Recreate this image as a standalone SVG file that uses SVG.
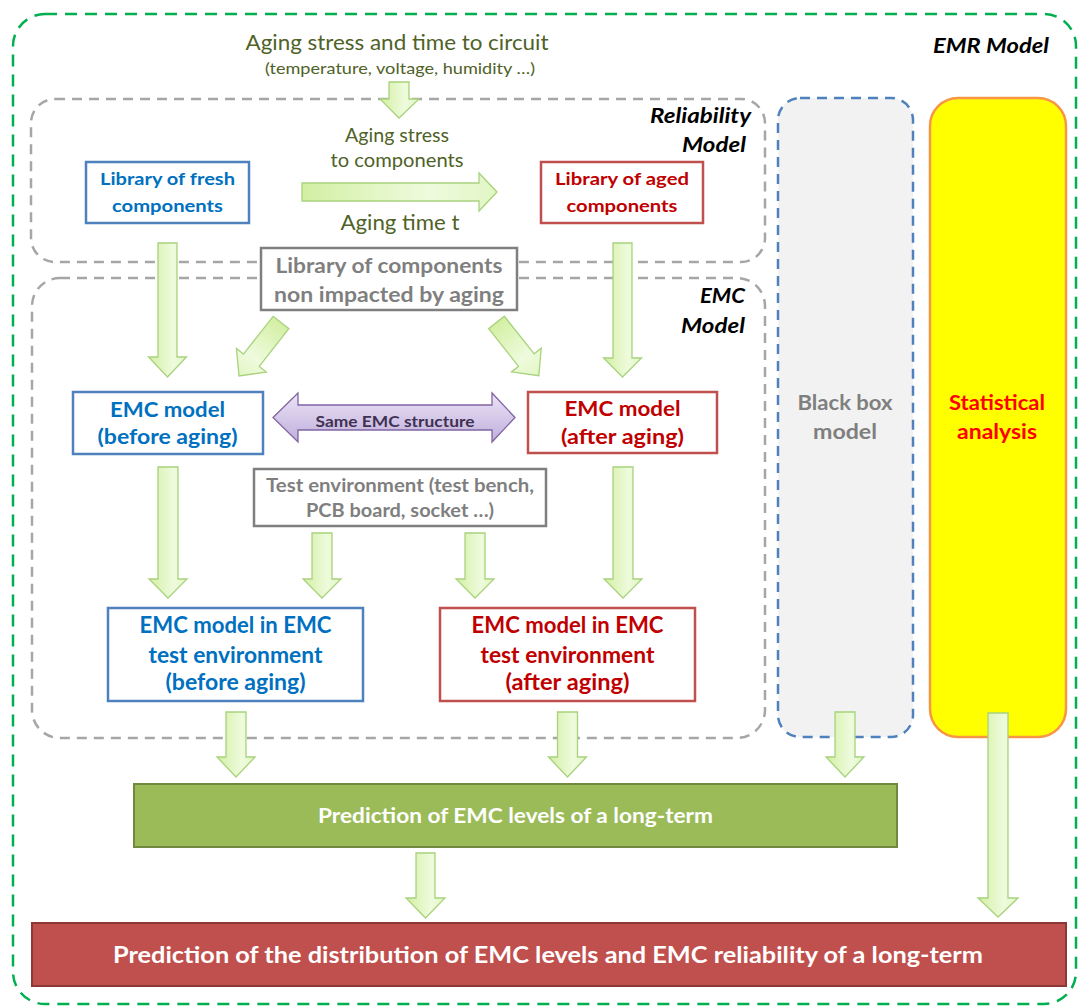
<svg xmlns="http://www.w3.org/2000/svg" width="1078" height="1006" viewBox="0 0 1078 1006">
<defs>
<linearGradient id="ag" x1="0" y1="0" x2="1" y2="0">
<stop offset="0" stop-color="#d3efa3"/>
<stop offset="0.65" stop-color="#eefbdd"/>
<stop offset="1" stop-color="#e2f6c4"/>
</linearGradient>
<linearGradient id="pg" x1="0" y1="0" x2="0" y2="1">
<stop offset="0" stop-color="#ece4f7"/>
<stop offset="1" stop-color="#bfaedb"/>
</linearGradient>
<style>
text{font-family:Lato,"Open Sans","Liberation Sans",sans-serif;text-anchor:middle}
.dash{fill:none;stroke:#a6a6a6;stroke-width:2.5;stroke-dasharray:10 7}
.arr{fill:url(#ag);stroke:#a8d27c;stroke-width:1.3;stroke-linejoin:miter}
.box{fill:#fff;stroke-width:2.5}
.blue{stroke:#4f81bd}
.red{stroke:#c0504d}
.gray{stroke:#7f7f7f}
.tb{font-weight:bold;fill:#0070c0}
.tr{font-weight:bold;fill:#c00000}
.tg{font-weight:bold;fill:#7f7f7f}
.ol{fill:#4f6228}
.lab{font-weight:bold;font-style:italic;fill:#000;text-anchor:end}
.wt{font-weight:bold;fill:#fff}
</style>
</defs>
<rect width="1078" height="1006" fill="#fff"/>

<g id="emr-model">
<rect x="13" y="14" width="1063" height="990" rx="32" fill="none" stroke="#00b050" stroke-width="2.5" stroke-dasharray="12 8"/>
<text class="lab" x="1049" y="53" font-size="21" textLength="116" lengthAdjust="spacingAndGlyphs">EMR Model</text>
</g>

<g id="reliability-model">
<rect class="dash" x="31" y="99" width="734" height="163" rx="24"/>
<text class="lab" x="751" y="123" font-size="21" textLength="101" lengthAdjust="spacingAndGlyphs">Reliability</text>
<text class="lab" x="746" y="152" font-size="21" textLength="64" lengthAdjust="spacingAndGlyphs">Model</text>
</g>

<g id="emc-model">
<rect class="dash" x="32" y="278" width="733" height="460" rx="28"/>
<text class="lab" x="745" y="303" font-size="21" textLength="45" lengthAdjust="spacingAndGlyphs">EMC</text>
<text class="lab" x="745" y="333" font-size="21" textLength="64" lengthAdjust="spacingAndGlyphs">Model</text>
</g>

<g id="black-box">
<rect x="778" y="98" width="135" height="639" rx="22" fill="#f2f2f2" stroke="#4f81bd" stroke-width="2.5" stroke-dasharray="10 7"/>
<text class="tg" x="845" y="410" font-size="20" textLength="95" lengthAdjust="spacingAndGlyphs">Black box</text>
<text class="tg" x="845" y="439" font-size="20" textLength="64" lengthAdjust="spacingAndGlyphs">model</text>
</g>

<g id="statistical-analysis">
<rect x="930" y="98" width="136" height="639" rx="28" fill="#ffff00" stroke="#f79646" stroke-width="2.5"/>
<text x="997" y="410" font-size="20" font-weight="bold" fill="#ff0000" textLength="96" lengthAdjust="spacingAndGlyphs">Statistical</text>
<text x="997" y="439" font-size="20" font-weight="bold" fill="#ff0000" textLength="80" lengthAdjust="spacingAndGlyphs">analysis</text>
</g>

<g id="aging-stress-input">
<text class="ol" x="397" y="50" font-size="21" textLength="303" lengthAdjust="spacingAndGlyphs">Aging stress and time to circuit</text>
<text class="ol" x="400" y="74" font-size="16" textLength="270" lengthAdjust="spacingAndGlyphs">(temperature, voltage, humidity …)</text>
</g>

<g id="aging-labels">
<text class="ol" x="397" y="142" font-size="19.5" textLength="104" lengthAdjust="spacingAndGlyphs">Aging stress</text>
<text class="ol" x="397" y="167" font-size="19.5" textLength="133" lengthAdjust="spacingAndGlyphs">to components</text>
<text class="ol" x="400" y="230" font-size="21" textLength="119" lengthAdjust="spacingAndGlyphs">Aging time t</text>
</g>

<g id="connectors">
<path class="arr" d="M389,82 H409 V99 H419 L399,118 L380,99 H389 Z"/>
<path class="arr" d="M302,183 H479 V173 L497,192 L479,211 V201 H302 Z"/>
<path class="arr" d="M158,243 H177 V357 H186.5 L167.5,377 L148.5,357 H158 Z"/>
<path class="arr" d="M613,243 H632 V358 H641.5 L622.5,377 L603.5,358 H613 Z"/>
<path class="arr" transform="translate(281,322.5) rotate(128.1)" d="M0,-10 H48 V-19 L68,0 L48,19 V10 H0 Z"/>
<path class="arr" transform="translate(496.5,322.5) rotate(51.5)" d="M0,-10 H48 V-19 L68,0 L48,19 V10 H0 Z"/>
<path fill="url(#pg)" stroke="#8064a2" stroke-width="1.3" d="M273,417.5 L298,393 V405 H492 V393 L515,417.5 L492,442 V430 H298 V442 Z"/>
<text x="395" y="427" font-size="16" font-weight="bold" fill="#3f3151" textLength="159" lengthAdjust="spacingAndGlyphs">Same EMC structure</text>
<path class="arr" d="M158,467 H178 V579 H187 L168,598 L149,579 H158 Z"/>
<path class="arr" d="M312,533 H332 V579 H341 L322,598 L303,579 H312 Z"/>
<path class="arr" d="M465,533 H485 V579 H494 L475,598 L456,579 H465 Z"/>
<path class="arr" d="M613,467 H633 V579 H642 L623,598 L604,579 H613 Z"/>
<path class="arr" d="M226,712 H246 V757 H255 L236,777 L217,757 H226 Z"/>
<path class="arr" d="M557.5,712 H577.5 V757 H586.5 L567.5,777 L548.5,757 H557.5 Z"/>
<path class="arr" d="M835,712 H855 V757 H864 L845,777 L826,757 H835 Z"/>
<path class="arr" d="M988,713 H1008 V898 H1018 L998,917 L978,898 H988 Z"/>
<path class="arr" d="M416,853 H435 V898 H445 L425.5,918 L406,898 H416 Z"/>
</g>

<g id="lib-fresh">
<rect class="box blue" x="86" y="162" width="163" height="61"/>
<text class="tb" x="167.5" y="185" font-size="17" textLength="135" lengthAdjust="spacingAndGlyphs">Library of fresh</text>
<text class="tb" x="167.5" y="212" font-size="17" textLength="111" lengthAdjust="spacingAndGlyphs">components</text>
</g>

<g id="lib-aged">
<rect class="box red" x="541" y="162" width="162" height="61"/>
<text class="tr" x="622" y="185" font-size="17" textLength="134" lengthAdjust="spacingAndGlyphs">Library of aged</text>
<text class="tr" x="622" y="212" font-size="17" textLength="111" lengthAdjust="spacingAndGlyphs">components</text>
</g>

<g id="lib-non-impacted">
<rect class="box gray" x="261" y="248" width="256" height="62"/>
<text class="tg" x="389" y="273" font-size="20" textLength="227" lengthAdjust="spacingAndGlyphs">Library of components</text>
<text class="tg" x="389" y="302" font-size="20" textLength="230" lengthAdjust="spacingAndGlyphs">non impacted by aging</text>
</g>

<g id="emc-before">
<rect class="box blue" x="73" y="392" width="190" height="62"/>
<text class="tb" x="167.5" y="417" font-size="21" textLength="115" lengthAdjust="spacingAndGlyphs">EMC model</text>
<text class="tb" x="167.5" y="444" font-size="21" textLength="140" lengthAdjust="spacingAndGlyphs">(before aging)</text>
</g>

<g id="emc-after">
<rect class="box red" x="528" y="392" width="189" height="61"/>
<text class="tr" x="622.5" y="416" font-size="21" textLength="116" lengthAdjust="spacingAndGlyphs">EMC model</text>
<text class="tr" x="622.5" y="444" font-size="21" textLength="123" lengthAdjust="spacingAndGlyphs">(after aging)</text>
</g>

<g id="test-env">
<rect class="box gray" x="254" y="469" width="292" height="57"/>
<text class="tg" x="400" y="492" font-size="18" textLength="268" lengthAdjust="spacingAndGlyphs">Test environment (test bench,</text>
<text class="tg" x="400" y="517" font-size="18" textLength="188" lengthAdjust="spacingAndGlyphs">PCB board, socket …)</text>
</g>

<g id="emc-test-before">
<rect class="box blue" x="108" y="608" width="255" height="93"/>
<text class="tb" x="235.5" y="633" font-size="22" textLength="192" lengthAdjust="spacingAndGlyphs">EMC model in EMC</text>
<text class="tb" x="235.5" y="663" font-size="22" textLength="174" lengthAdjust="spacingAndGlyphs">test environment</text>
<text class="tb" x="235.5" y="690" font-size="22" textLength="140" lengthAdjust="spacingAndGlyphs">(before aging)</text>
</g>

<g id="emc-test-after">
<rect class="box red" x="440" y="608" width="255" height="93"/>
<text class="tr" x="567.5" y="633" font-size="22" textLength="192" lengthAdjust="spacingAndGlyphs">EMC model in EMC</text>
<text class="tr" x="567.5" y="663" font-size="22" textLength="174" lengthAdjust="spacingAndGlyphs">test environment</text>
<text class="tr" x="567.5" y="690" font-size="22" textLength="124" lengthAdjust="spacingAndGlyphs">(after aging)</text>
</g>

<g id="prediction-levels">
<rect x="134" y="784" width="763" height="63" fill="#9bbb59" stroke="#71893f" stroke-width="2"/>
<text class="wt" x="515.5" y="823" font-size="20" textLength="395" lengthAdjust="spacingAndGlyphs">Prediction of EMC levels of a long-term</text>
</g>

<g id="prediction-distribution">
<rect x="32" y="923" width="1034" height="63" fill="#c0504d" stroke="#8c3836" stroke-width="2"/>
<text class="wt" x="548" y="963" font-size="23" textLength="870" lengthAdjust="spacingAndGlyphs">Prediction of the distribution of EMC levels and EMC reliability of a long-term</text>
</g>
</svg>
